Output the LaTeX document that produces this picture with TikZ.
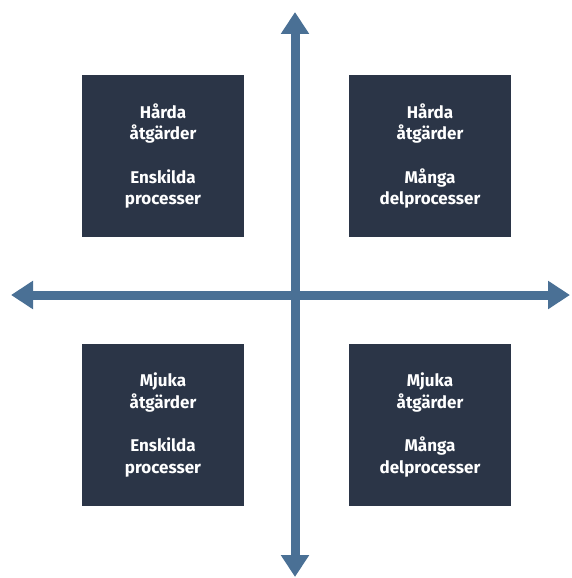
\documentclass[tikz,border=0pt]{standalone}
\usepackage{fontspec}
\setmainfont{Fira Sans}
\usetikzlibrary{arrows.meta}
\definecolor{boxc}{HTML}{2B3547}
\definecolor{axisc}{HTML}{4A7095}
\tikzset{
  quad/.style={fill=boxc, minimum width=162pt, minimum height=162pt, inner sep=0pt,
    text=white, align=center, font=\fontsize{17}{21.7}\selectfont\bfseries},
  axis/.style={draw=axisc, line width=9pt,
    {Triangle[length=22pt,width=27pt]}-{Triangle[length=22pt,width=27pt]}}
}
\begin{document}
\begin{tikzpicture}[x=1pt,y=-1pt]
\useasboundingbox (0,0) rectangle (571,578);
\node[quad] (tl) at (163,156) {Hårda\\åtgärder\\[21.7pt]Enskilda\\processer};
\node[quad] (tr) at (430,156) {Hårda\\åtgärder\\[21.7pt]Många\\delprocesser};
\node[quad] (bl) at (163,425) {Mjuka\\åtgärder\\[21.7pt]Enskilda\\processer};
\node[quad] (br) at (430,425) {Mjuka\\åtgärder\\[21.7pt]Många\\delprocesser};
\coordinate (top) at (295,12);
\coordinate (bottom) at (295,577);
\coordinate (left) at (11,295);
\coordinate (right) at (570,295);
\draw[axis] (top) -- (bottom);
\draw[axis] (left) -- (right);
\end{tikzpicture}
\end{document}
